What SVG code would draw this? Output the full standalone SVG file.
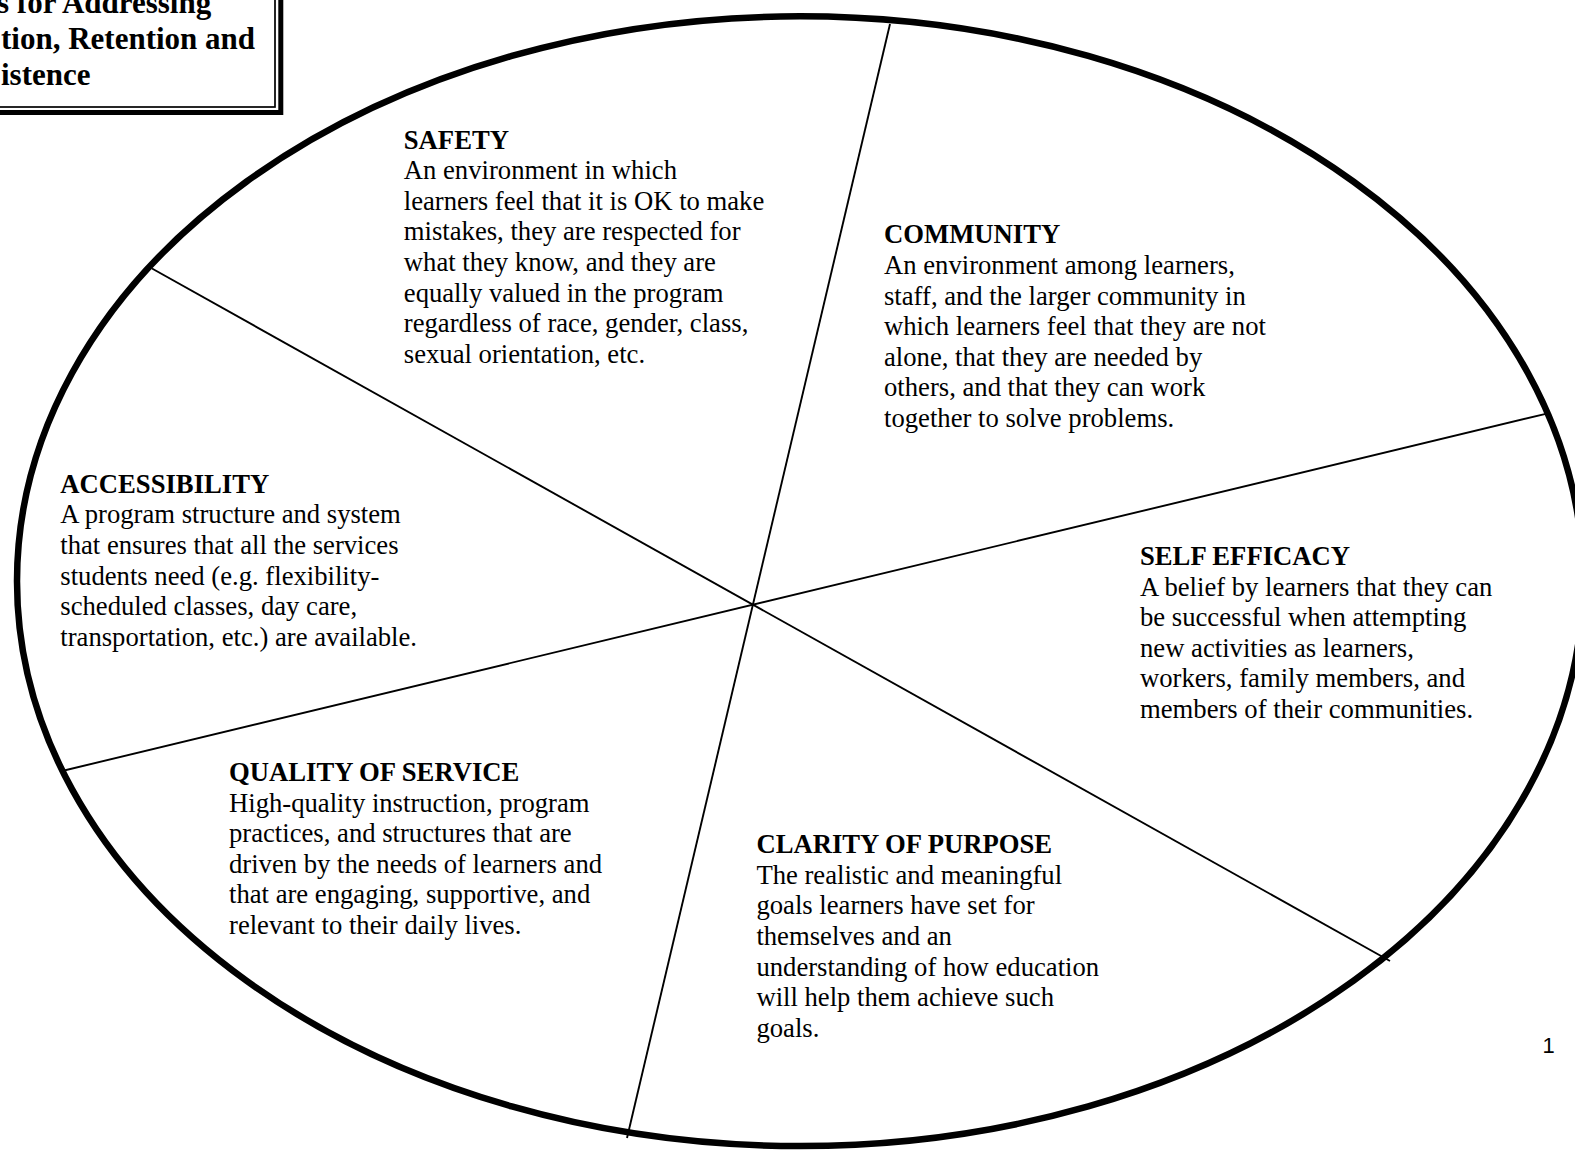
<svg xmlns="http://www.w3.org/2000/svg" width="1575" height="1154" viewBox="0 0 1575 1154">
<style>
.t{font-family:"Liberation Serif","Times New Roman",serif;font-size:26.67px;fill:#000}
.h{font-weight:bold}
.ttl{font-family:"Liberation Serif","Times New Roman",serif;font-size:31px;font-weight:bold;fill:#000}
.div{stroke:#000;stroke-width:1.9;fill:none}
</style>
<rect width="1575" height="1154" fill="#fff"/>
<g id="title-box">
<rect x="-20" y="-20" width="300.8" height="132.5" fill="#fff" stroke="#000" stroke-width="5"/>
<rect x="-20" y="-20" width="295" height="127" fill="none" stroke="#000" stroke-width="1.7"/>
<text class="ttl" x="-3" y="12.5">s for Addressing</text>
<text class="ttl" x="1" y="48.5">tion, Retention and</text>
<text class="ttl" x="1" y="84.5">istence</text>
</g>
<g id="connectors">
<line class="div" x1="890" y1="24" x2="627" y2="1138"/>
<line class="div" x1="152" y1="268.5" x2="1390" y2="961"/>
<line class="div" x1="62" y1="771" x2="1550" y2="412.8"/>
</g>
<g id="outer-ellipse">
<ellipse cx="800" cy="581.2" rx="783" ry="564.9" fill="none" stroke="#000" stroke-width="6.5"/>
</g>
<g id="safety">
<text class="t h" x="403.8" y="148.5">SAFETY</text>
<text class="t" x="403.8" y="179.1">An environment in which</text>
<text class="t" x="403.8" y="209.7">learners feel that it is OK to make</text>
<text class="t" x="403.8" y="240.3">mistakes, they are respected for</text>
<text class="t" x="403.8" y="270.9">what they know, and they are</text>
<text class="t" x="403.8" y="301.5">equally valued in the program</text>
<text class="t" x="403.8" y="332.1">regardless of race, gender, class,</text>
<text class="t" x="403.8" y="362.7">sexual orientation, etc.</text>
</g>
<g id="community">
<text class="t h" x="884" y="243.3">COMMUNITY</text>
<text class="t" x="884" y="273.9">An environment among learners,</text>
<text class="t" x="884" y="304.5">staff, and the larger community in</text>
<text class="t" x="884" y="335.1">which learners feel that they are not</text>
<text class="t" x="884" y="365.7">alone, that they are needed by</text>
<text class="t" x="884" y="396.3">others, and that they can work</text>
<text class="t" x="884" y="426.9">together to solve problems.</text>
</g>
<g id="accessibility">
<text class="t h" x="60.3" y="492.7">ACCESSIBILITY</text>
<text class="t" x="60.3" y="523.3">A program structure and system</text>
<text class="t" x="60.3" y="553.9">that ensures that all the services</text>
<text class="t" x="60.3" y="584.5">students need (e.g. flexibility-</text>
<text class="t" x="60.3" y="615.1">scheduled classes, day care,</text>
<text class="t" x="60.3" y="645.7">transportation, etc.) are available.</text>
</g>
<g id="self-efficacy">
<text class="t h" x="1140" y="565">SELF EFFICACY</text>
<text class="t" x="1140" y="595.6">A belief by learners that they can</text>
<text class="t" x="1140" y="626.2">be successful when attempting</text>
<text class="t" x="1140" y="656.8">new activities as learners,</text>
<text class="t" x="1140" y="687.4">workers, family members, and</text>
<text class="t" x="1140" y="718">members of their communities.</text>
</g>
<g id="quality-of-service">
<text class="t h" x="229" y="781">QUALITY OF SERVICE</text>
<text class="t" x="229" y="811.6">High-quality instruction, program</text>
<text class="t" x="229" y="842.2">practices, and structures that are</text>
<text class="t" x="229" y="872.8">driven by the needs of learners and</text>
<text class="t" x="229" y="903.4">that are engaging, supportive, and</text>
<text class="t" x="229" y="934">relevant to their daily lives.</text>
</g>
<g id="clarity-of-purpose">
<text class="t h" x="756.4" y="853.1">CLARITY OF PURPOSE</text>
<text class="t" x="756.4" y="883.7">The realistic and meaningful</text>
<text class="t" x="756.4" y="914.3">goals learners have set for</text>
<text class="t" x="756.4" y="944.9">themselves and an</text>
<text class="t" x="756.4" y="975.5">understanding of how education</text>
<text class="t" x="756.4" y="1006.1">will help them achieve such</text>
<text class="t" x="756.4" y="1036.7">goals.</text>
</g>
<g id="page-number">
<text x="1542.5" y="1053" font-family="Liberation Sans, Arial, sans-serif" font-size="22" fill="#000">1</text>
</g>
</svg>
